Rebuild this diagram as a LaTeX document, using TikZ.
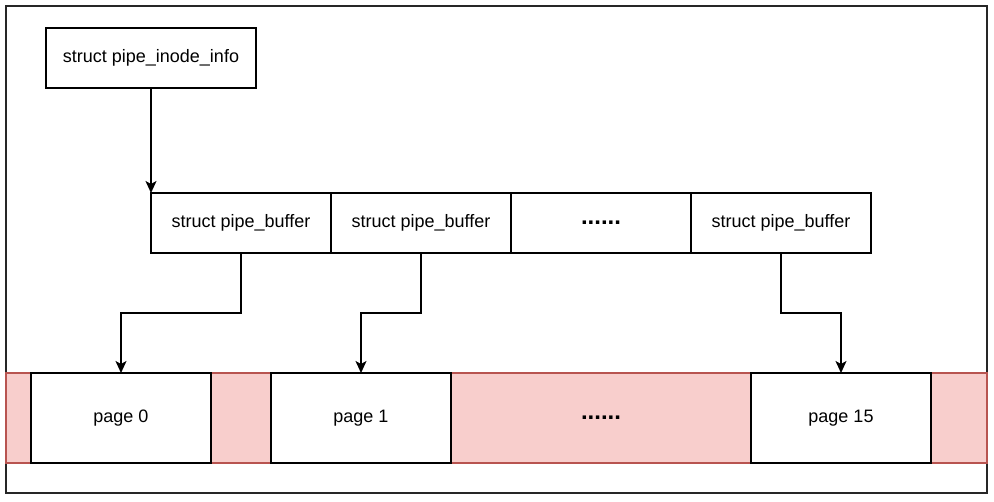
\documentclass[tikz,border=0pt]{standalone}
\usepackage{fontspec}
\setmainfont{Liberation Sans}
\usepackage{xcolor}
\usepackage{tikz}
\usetikzlibrary{positioning,arrows.meta}

\definecolor{bandfill}{HTML}{F8CECC}
\definecolor{bandline}{HTML}{B85450}

\begin{document}
\begin{tikzpicture}[
    x=1pt, y=-1pt,
    font=\fontsize{18}{22}\selectfont,
    box/.style={rectangle, draw, fill=white, line width=1.5pt, minimum width=180pt, minimum height=60pt, inner sep=0pt, outer sep=0pt},
    infobox/.style={box, minimum width=210pt},
    pagebox/.style={box, minimum height=90pt},
    dots/.style={font=\fontsize{24}{28}\selectfont\bfseries},
    arrow/.style={-{Stealth[length=12pt,width=11pt,inset=3pt]}, line width=1.5pt}
]
    \useasboundingbox (0,0) rectangle (994,502);
    % Frame and page band
    \draw[line width=1.5pt, black!85] (6,6) rectangle (987,493);
    \draw[fill=bandfill, draw=bandline, line width=1.2pt] (6,373) rectangle (987,463);

    % Nodes
    \node[infobox] (info) at (151,58) {struct pipe\_inode\_info};

    \node[box] (buf0) at (241,223) {struct pipe\_buffer};
    \node[box, right=0pt of buf0] (buf1) {struct pipe\_buffer};
    \node[box, dots, right=0pt of buf1] (bufdots) {......};
    \node[box, right=0pt of bufdots] (buf15) {struct pipe\_buffer};

    \node[pagebox] (page0) at (121,418) {page 0};
    \node[pagebox] (page1) at (361,418) {page 1};
    \node[dots] (pagedots) at (601,418) {......};
    \node[pagebox] (page15) at (841,418) {page 15};

    % Arrows
    \draw[arrow] (info.south) -- (buf0.north west);
    \draw[arrow] (buf0.south) -- ++(0,60) -| (page0.north);
    \draw[arrow] (buf1.south) -- ++(0,60) -| (page1.north);
    \draw[arrow] (buf15.south) -- ++(0,60) -| (page15.north);
\end{tikzpicture}
\end{document}
